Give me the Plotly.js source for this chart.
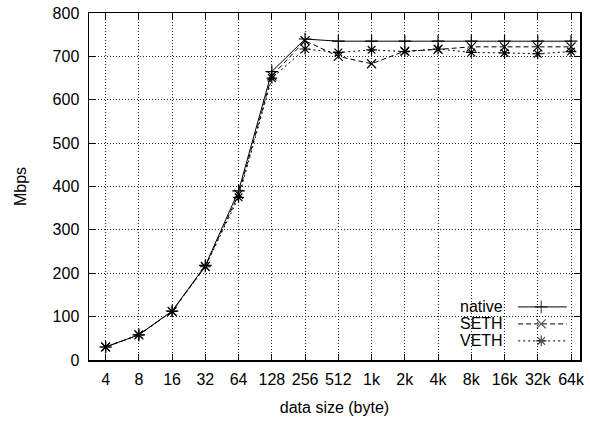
<!DOCTYPE html>
<html>
<head>
<meta charset="utf-8">
<script src="https://cdn.plot.ly/plotly-3.0.1.min.js"></script>
<style>html,body{margin:0;padding:0;background:#fff;}#chart{width:590px;height:435px;}</style>
</head>
<body>
<div id="chart"></div>
<script>
const categories = ['4','8','16','32','64','128','256','512','1k','2k','4k','8k','16k','32k','64k'];
const nativeVals = [30, 58, 113, 218, 390, 665, 740, 735, 735, 735, 735, 735, 735, 735, 735];
const sethVals   = [30, 58, 112, 216, 382, 655, 736, 700, 683, 712, 716, 722, 722, 722, 722];
const vethVals   = [30, 58, 112, 215, 375, 650, 717, 709, 715, 711, 717, 709, 708, 706, 711];
const seriesNames = ['native', 'SETH', 'VETH'];
const yTicks = [0, 100, 200, 300, 400, 500, 600, 700, 800];

const font = 'Liberation Sans, Arial, Helvetica, sans-serif';
const styles = [
  {dash: 'solid', symbol: 'cross-thin-open'},
  {dash: '5px,3px', symbol: 'x-thin-open'},
  {dash: '2px,3px', symbol: 'asterisk-open'}
];
const allVals = [nativeVals, sethVals, vethVals];

const traces = allVals.map((v, i) => ({
  x: categories, y: v, type: 'scatter', mode: 'lines+markers',
  name: seriesNames[i], showlegend: false,
  line: {color: '#000', width: 1, dash: styles[i].dash},
  marker: {symbol: styles[i].symbol, size: 9, color: '#000', line: {color: '#000', width: 1.2}},
  hoverinfo: 'x+y+name'
}));

// custom gnuplot-style legend (label left, sample right)
const legendY = [0.153, 0.104, 0.055];
seriesNames.forEach((n, i) => {
  traces.push({
    x: [0.874, 0.921, 0.973], y: [legendY[i], legendY[i], legendY[i]],
    xaxis: 'x2', yaxis: 'y2', type: 'scatter', mode: 'lines+markers', showlegend: false,
    hoverinfo: 'skip',
    line: {color: '#000', width: 1, dash: styles[i].dash},
    marker: {symbol: styles[i].symbol, size: [0, 9, 0], color: '#000', line: {color: '#000', width: 1.2}}
  });
});

const annotations = seriesNames.map((n, i) => ({
  xref: 'paper', yref: 'paper', x: 0.845, y: legendY[i],
  xanchor: 'right', yanchor: 'middle', text: n, showarrow: false, borderpad: 0,
  font: {family: font, size: 16, color: '#000'}
}));

const layout = {
  width: 590, height: 435,
  margin: {l: 89, r: 10, t: 13, b: 75},
  paper_bgcolor: '#fff', plot_bgcolor: '#fff',
  font: {family: font, size: 16, color: '#000'},
  showlegend: false,
  xaxis: {
    type: 'category', range: [-0.5, 14.27],
    showline: true, linecolor: '#000', linewidth: 1.5, mirror: 'ticks',
    ticks: 'inside', ticklen: 6, tickcolor: '#000', tickwidth: 1,
    showgrid: true, gridcolor: '#222', griddash: '1px,2px', gridwidth: 1,
    zeroline: false, ticklabelstandoff: 4,
    title: {text: 'data size (byte)', font: {family: font, size: 16}, standoff: 15}
  },
  yaxis: {
    range: [0, 800], tickvals: yTicks,
    showline: true, linecolor: '#000', linewidth: 1.5, mirror: 'ticks',
    ticks: 'inside', ticklen: 6, tickcolor: '#000', tickwidth: 1,
    showgrid: true, gridcolor: '#222', griddash: '1px,2px', gridwidth: 1,
    zeroline: false, ticklabelstandoff: 5,
    title: {text: 'Mbps', font: {family: font, size: 16}, standoff: 22}
  },
  xaxis2: {overlaying: 'x', range: [0, 1], visible: false, fixedrange: true},
  yaxis2: {overlaying: 'y', range: [0, 1], visible: false, fixedrange: true},
  annotations: annotations
};

Plotly.newPlot('chart', traces, layout, {displayModeBar: false, staticPlot: true});
</script>
</body>
</html>
